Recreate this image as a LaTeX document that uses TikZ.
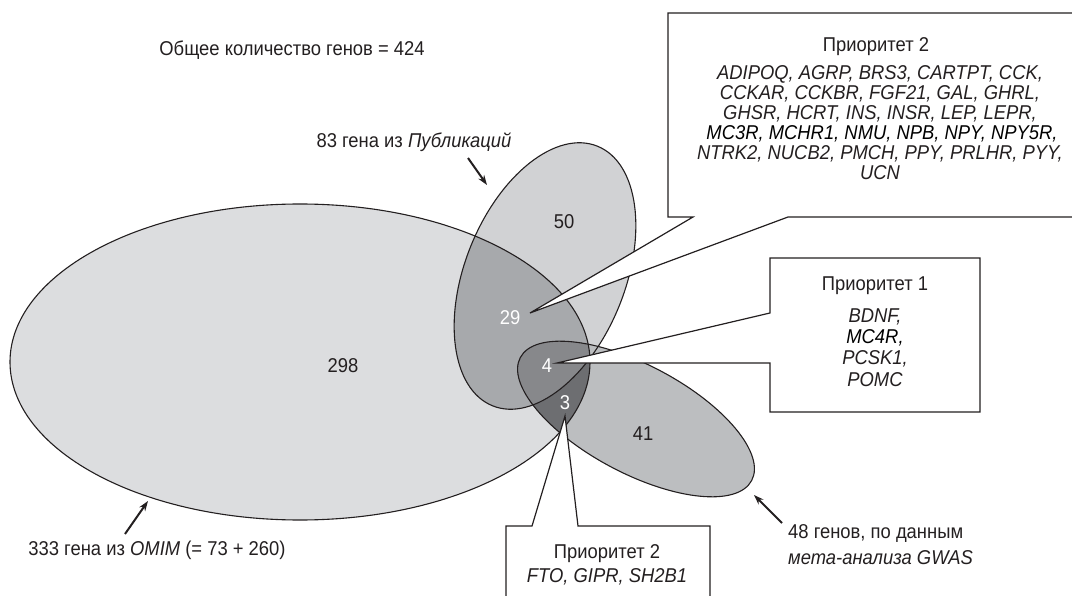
\documentclass[tikz,border=0pt]{standalone}
\usepackage{fontspec}
\setmainfont{Liberation Sans}[FakeStretch=0.92]
\usetikzlibrary{arrows.meta}
\definecolor{cBig}{HTML}{DCDDDF}
\definecolor{cPub}{HTML}{D1D2D4}
\definecolor{cGw}{HTML}{BCBEC0}
\definecolor{cPB}{HTML}{A7A9AC}
\definecolor{cAll}{HTML}{87888B}
\definecolor{cBG}{HTML}{6D6E71}
\definecolor{ink}{HTML}{231F20}
\begin{document}
\begin{tikzpicture}[x=1pt,y=1pt,
  lbl/.style={font=\fontsize{20}{20}\selectfont, text=ink, inner sep=0pt, anchor=base},
  lblw/.style={lbl, text=white},
  outl/.style={draw=ink, line width=1.1pt},
  callout/.style={draw=ink, fill=white, line width=1.2pt, line join=miter},
  ptr/.style={draw=ink, line width=2pt, -{Stealth[length=10pt,width=7pt]}}]
\useasboundingbox (0,0) rectangle (1072,-596);
\clip (0,0) rectangle (1072,-596);
% fills
\fill[cBig] (300,-362) ellipse [x radius=290, y radius=158];
\fill[cPub, shift={(545,-276)}, rotate=68] (0,0) ellipse [x radius=140, y radius=80];
\fill[cGw, shift={(636,-419)}, rotate=-28] (0,0) ellipse [x radius=131, y radius=54];
\begin{scope}
  \clip (300,-362) ellipse [x radius=290, y radius=158];
  \fill[cPB, shift={(545,-276)}, rotate=68] (0,0) ellipse [x radius=140, y radius=80];
  \fill[cBG, shift={(636,-419)}, rotate=-28] (0,0) ellipse [x radius=131, y radius=54];
  \begin{scope}
    \clip[shift={(545,-276)}, rotate=68] (0,0) ellipse [x radius=140, y radius=80];
    \fill[cAll, shift={(636,-419)}, rotate=-28] (0,0) ellipse [x radius=131, y radius=54];
  \end{scope}
\end{scope}
% outlines
\draw[outl] (300,-362) ellipse [x radius=290, y radius=158];
\draw[outl, shift={(545,-276)}, rotate=68] (0,0) ellipse [x radius=140, y radius=80];
\draw[outl, shift={(636,-419)}, rotate=-28] (0,0) ellipse [x radius=131, y radius=54];

% region numbers
\node[lbl] (n298) at (343,-372) {298};
\node[lbl] (n50) at (564,-229) {50};
\node[lblw] (n29) at (510,-325) {29};
\node[lblw] (n4) at (547,-373) {4};
\node[lblw] (n3) at (565,-409) {3};
\node[lbl] (n41) at (643,-440) {41};

% callouts
\coordinate (t29) at (530,-313);
\coordinate (t4) at (557,-363);
\coordinate (t3) at (565,-416);
\draw[callout] (1080,-13) -- (668,-13) -- (668,-217) -- (693,-217) -- (t29) -- (788,-217) -- (1080,-217) -- cycle;
\draw[callout] (770,-258) -- (980,-258) -- (980,-412) -- (770,-412) -- (770,-363) -- (t4) -- (770,-313) -- cycle;
\draw[callout] (506,-610) -- (506,-526) -- (532,-526) -- (t3) -- (578,-526) -- (710,-526) -- (710,-610) -- cycle;

% box 2 text
\node[lbl] (p2h) at (876,-52) {Приоритет 2};
\node[lbl] (p2a) at (880,-80) {\itshape ADIPOQ, AGRP, BRS3, CARTPT, CCK,};
\node[lbl] (p2b) at (880,-100) {\itshape CCKAR, CCKBR, FGF21, GAL, GHRL,};
\node[lbl] (p2c) at (880,-120) {\itshape GHSR, HCRT, INS, INSR, LEP, LEPR,};
\node[lbl, text=black] (p2d) at (882,-140) {\itshape MC3R, MCHR1, NMU, NPB, NPY, NPY5R,};
\node[lbl] (p2e) at (880,-160) {\itshape NTRK2, NUCB2, PMCH, PPY, PRLHR, PYY,};
\node[lbl] (p2f) at (880,-180) {\itshape UCN};

% box 1 text
\node[lbl] (p1h) at (875,-291) {Приоритет 1};
\node[lbl] (p1a) at (875,-323) {\itshape BDNF,};
\node[lbl, text=black] (p1b) at (875,-344) {\itshape MC4R,};
\node[lbl] (p1c) at (875,-365) {\itshape PCSK1,};
\node[lbl] (p1d) at (875,-386) {\itshape POMC};

% box 3 text
\node[lbl] (p3h) at (607,-558) {Приоритет 2};
\node[lbl] (p3a) at (607,-582) {\itshape FTO, GIPR, SH2B1};

% labels
\node[lbl] (total) at (292,-56) {Общее количество генов = 424};
\node[lbl] (publ) at (414,-148) {83 гена из \textit{Публикаций}};
\node[lbl] (omim) at (157,-555) {333 гена из \textit{OMIM} (= 73 + 260)};
\node[lbl, anchor=base west] (gw1) at (788,-538) {48 генов, по данным};
\node[lbl, anchor=base west] (gw2) at (788,-564) {\itshape мета-анализа GWAS};

% arrows
\coordinate (a1s) at (468,-158);
\coordinate (a1e) at (487,-185);
\coordinate (a2s) at (125,-534);
\coordinate (a2e) at (148,-501);
\coordinate (a3s) at (782,-523);
\coordinate (a3e) at (754,-495);
\draw[ptr] (a1s) -- (a1e);
\draw[ptr] (a2s) -- (a2e);
\draw[ptr] (a3s) -- (a3e);
\end{tikzpicture}
\end{document}
